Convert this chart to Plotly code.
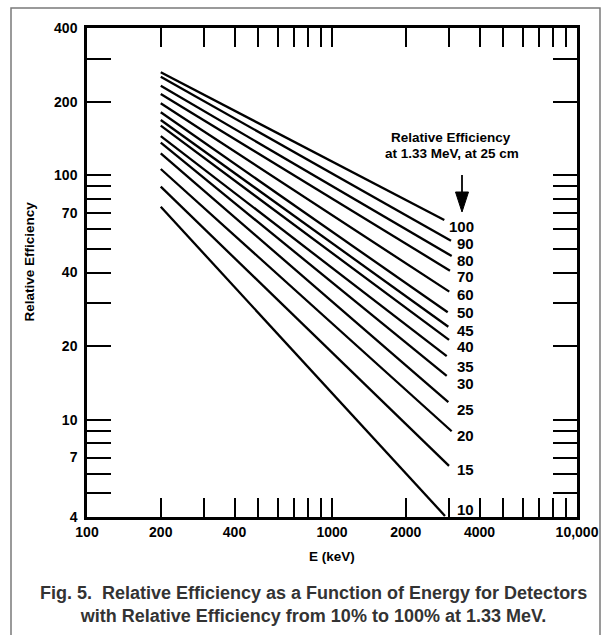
import numpy as np
import plotly.graph_objects as go

# ---------------- data ----------------
efficiency_labels = ["100", "90", "80", "70", "60", "50", "45", "40", "35", "30", "25", "20", "15", "10"]
energy_start_kev = [200] * 14
energy_end_kev = [2873, 3060, 3080, 3031, 3011, 2967, 2984, 3004, 2939, 2939, 2984, 3080, 3004, 2892]
rel_eff_start = [263.5, 252.8, 232.3, 214.9, 196.8, 180.9, 168.2, 159.4, 144.6, 135.8, 122.9, 106.0, 89.8, 74.3]
rel_eff_end = [65.6, 54.0, 46.7, 40.7, 33.4, 27.5, 24.0, 21.2, 18.2, 15.1, 11.8, 8.97, 6.47, 4.04]

x_tick_values = [100, 200, 300, 400, 500, 600, 700, 800, 900, 1000,
                 2000, 3000, 4000, 5000, 6000, 7000, 8000, 9000, 10000]
x_tick_text = ["100", "200", "", "400", "", "", "", "", "", "1000",
               "2000", "", "4000", "", "", "", "", "", "10,000"]
y_tick_values = [4, 5, 6, 7, 8, 9, 10, 20, 30, 40, 50, 60, 70, 80, 90, 100, 200, 300, 400]
y_tick_text = ["4", "", "", "7", "", "", "10", "20", "", "40", "", "", "70", "", "", "100", "200", "", "400"]

# ---------------- layout geometry (pixels) ----------------
W, H = 610, 635
L, R, T, B = 87, 577, 28, 517
FONT = "Liberation Sans, Arial, Helvetica, sans-serif"


def px(x, y):
    return (x - L) / (R - L), (B - y) / (B - T)


fig = go.Figure()
for e0, e1, v0, v1 in zip(energy_start_kev, energy_end_kev, rel_eff_start, rel_eff_end):
    fig.add_trace(go.Scatter(x=[e0, e1], y=[v0, v1], mode="lines",
                             line=dict(color="black", width=2.3),
                             showlegend=False, hoverinfo="skip"))

annotations = []
# curve labels (right-aligned column next to line ends)
label_y_px = [226, 243.3, 260, 276.7, 294, 312.7, 330, 346.7, 366.7, 383.3, 409.3, 435, 469.3, 509]
for txt, ypx in zip(efficiency_labels, label_y_px):
    xp, yp = px(476, ypx)
    annotations.append(dict(x=xp, y=yp, xref="paper", yref="paper", text=txt, showarrow=False,
                            xanchor="right", yanchor="middle",
                            font=dict(family=FONT, size=15, color="black", weight="bold")))

for txt, (xx, yy) in [("Relative Efficiency", (451, 137)), ("at 1.33 MeV, at 25 cm", (451.5, 154))]:
    xp, yp = px(xx, yy)
    annotations.append(dict(x=xp, y=yp, xref="paper", yref="paper", text=txt, showarrow=False,
                            xanchor="center", yanchor="middle",
                            font=dict(family=FONT, size=13.5, color="black", weight="bold")))

# axis titles
xp, yp = px(28.5, 262)
annotations.append(dict(x=xp, y=yp, xref="paper", yref="paper", text="Relative Efficiency",
                        showarrow=False, textangle=-90, xanchor="center", yanchor="middle",
                        font=dict(family=FONT, size=13.5, color="black", weight="bold")))
xp, yp = px(332, 556)
annotations.append(dict(x=xp, y=yp, xref="paper", yref="paper", text="E (keV)",
                        showarrow=False, xanchor="center", yanchor="middle",
                        font=dict(family=FONT, size=13.5, color="black", weight="bold")))

# caption
xp, yp = px(313, 604)
annotations.append(dict(x=xp, y=yp, xref="paper", yref="paper",
                        text="Fig. 5.  Relative Efficiency as a Function of Energy for Detectors<br>"
                             "with Relative Efficiency from 10% to 100% at 1.33 MeV.",
                        showarrow=False, xanchor="center", yanchor="middle", align="center",
                        font=dict(family=FONT, size=18, color="#333333", weight="bold")))

shapes = []
# arrow
x0, y0 = px(462, 175)
x1, y1 = px(462, 193)
shapes.append(dict(type="line", xref="paper", yref="paper", x0=x0, y0=y0, x1=x1, y1=y1,
                   line=dict(color="black", width=1.8)))
a = px(455.5, 192)
b = px(468.5, 192)
c = px(462, 212)
shapes.append(dict(type="path", xref="paper", yref="paper",
                   path=f"M {a[0]} {a[1]} L {b[0]} {b[1]} L {c[0]} {c[1]} Z",
                   fillcolor="black", line=dict(color="black", width=1)))
# outer frame
f0 = px(11, 8)
f1 = px(600, 660)
shapes.append(dict(type="rect", xref="paper", yref="paper", x0=f0[0], y0=f1[1], x1=f1[0], y1=f0[1],
                   line=dict(color="#7a7a7a", width=1.5), layer="below"))

axis_common = dict(type="log", ticks="inside", tickwidth=1.6, tickcolor="black",
                   showline=True, linecolor="black", linewidth=2.5, mirror="ticks",
                   showgrid=False, zeroline=False,
                   tickfont=dict(family=FONT, size=14, color="black", weight="bold"))

fig.update_layout(
    width=W, height=H, autosize=False,
    margin=dict(l=L, r=W - R, t=T, b=H - B, pad=0),
    paper_bgcolor="white", plot_bgcolor="white",
    xaxis=dict(range=[2, 4], tickvals=x_tick_values, ticktext=x_tick_text, ticklen=19,
               ticklabelstandoff=0, **axis_common),
    yaxis=dict(range=[np.log10(4), np.log10(400)], tickvals=y_tick_values, ticktext=y_tick_text,
               ticklen=24, ticklabelstandoff=4, **axis_common),
    annotations=annotations, shapes=shapes,
)

fig.write_html("out.html", config={"displayModeBar": False},
               post_script="document.body.style.margin='0';")
